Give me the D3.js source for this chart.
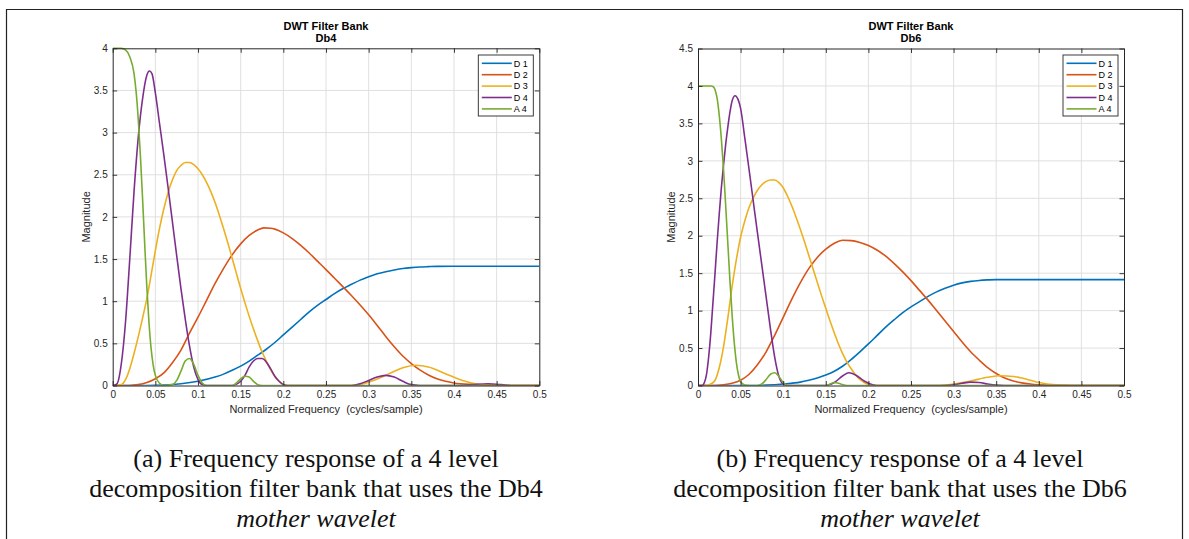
<!DOCTYPE html>
<html>
<head>
<meta charset="utf-8">
<script src="https://cdn.jsdelivr.net/npm/d3@7"></script>
<style>
  html, body { margin: 0; padding: 0; background: #fff; }
  svg { display: block; }
</style>
</head>
<body>
<svg id="fig" width="1189" height="539"></svg>
<script>
// ---- Shared axis ticks ----
const freqTicks = [0, 0.05, 0.1, 0.15, 0.2, 0.25, 0.3, 0.35, 0.4, 0.45, 0.5];
const magTicksDb4 = [0, 0.5, 1, 1.5, 2, 2.5, 3, 3.5, 4];
const magTicksDb6 = [0, 0.5, 1, 1.5, 2, 2.5, 3, 3.5, 4, 4.5];
const seriesNames = ["D 1", "D 2", "D 3", "D 4", "A 4"];
const seriesColors = ["#0072BD", "#D95319", "#EDB120", "#7E2F8E", "#77AC30"];

// ---- Db4 filter bank magnitude responses: [normalized frequency, magnitude] ----
const db4D1 = [[0,0],[0.04,0],[0.06,0.005],[0.08,0.02],[0.1,0.05],[0.12,0.1],[0.13,0.135],[0.14,0.18],[0.15,0.23],[0.16,0.29],[0.17,0.36],[0.18,0.43],[0.19,0.51],[0.2,0.6],[0.21,0.69],[0.22,0.78],[0.23,0.87],[0.24,0.95],[0.25,1.02],[0.26,1.09],[0.27,1.15],[0.28,1.2],[0.29,1.25],[0.3,1.29],[0.31,1.325],[0.32,1.35],[0.33,1.37],[0.34,1.387],[0.35,1.398],[0.36,1.406],[0.37,1.41],[0.38,1.413],[0.4,1.414],[0.5,1.414]];
const db4D2 = [[0,0],[0.02,0],[0.03,0.01],[0.04,0.035],[0.05,0.08],[0.06,0.15],[0.07,0.27],[0.08,0.42],[0.09,0.62],[0.1,0.81],[0.11,1.01],[0.12,1.21],[0.13,1.39],[0.14,1.55],[0.15,1.68],[0.16,1.78],[0.17,1.845],[0.177,1.87],[0.185,1.865],[0.19,1.855],[0.2,1.81],[0.21,1.745],[0.22,1.665],[0.23,1.575],[0.24,1.475],[0.25,1.375],[0.26,1.272],[0.27,1.17],[0.28,1.065],[0.29,0.955],[0.3,0.838],[0.31,0.712],[0.32,0.582],[0.33,0.46],[0.34,0.35],[0.35,0.26],[0.36,0.185],[0.37,0.125],[0.38,0.08],[0.39,0.05],[0.4,0.03],[0.42,0.012],[0.45,0.003],[0.47,0],[0.5,0]];
const db4D3 = [[0,0],[0.01,0.01],[0.015,0.07],[0.02,0.2],[0.025,0.38],[0.03,0.58],[0.035,0.8],[0.04,1.03],[0.045,1.31],[0.05,1.6],[0.055,1.87],[0.06,2.1],[0.065,2.29],[0.07,2.44],[0.075,2.55],[0.08,2.61],[0.085,2.645],[0.09,2.645],[0.095,2.62],[0.1,2.57],[0.105,2.5],[0.11,2.41],[0.115,2.3],[0.12,2.17],[0.125,2.02],[0.13,1.86],[0.135,1.69],[0.14,1.51],[0.145,1.33],[0.15,1.15],[0.155,0.98],[0.16,0.82],[0.165,0.67],[0.17,0.53],[0.175,0.4],[0.18,0.29],[0.185,0.19],[0.19,0.11],[0.195,0.05],[0.2,0.015],[0.205,0],[0.28,0],[0.3,0.04],[0.32,0.12],[0.34,0.21],[0.355,0.24],[0.37,0.22],[0.39,0.14],[0.41,0.06],[0.43,0.01],[0.44,0],[0.5,0]];
const db4D4 = [[0,0],[0.005,0.02],[0.01,0.25],[0.015,0.75],[0.02,1.5],[0.025,2.3],[0.03,2.95],[0.035,3.4],[0.04,3.68],[0.043,3.73],[0.046,3.7],[0.05,3.47],[0.055,3.1],[0.06,2.73],[0.065,2.34],[0.07,1.94],[0.075,1.54],[0.08,1.15],[0.085,0.79],[0.09,0.47],[0.095,0.22],[0.1,0.07],[0.105,0.01],[0.11,0],[0.14,0],[0.15,0.05],[0.155,0.12],[0.16,0.22],[0.165,0.29],[0.17,0.32],[0.175,0.32],[0.18,0.28],[0.185,0.2],[0.19,0.11],[0.195,0.05],[0.2,0.01],[0.205,0],[0.28,0],[0.29,0.02],[0.3,0.06],[0.31,0.1],[0.32,0.12],[0.33,0.1],[0.34,0.05],[0.35,0.01],[0.36,0],[0.4,0],[0.42,0.01],[0.44,0.02],[0.45,0.015],[0.46,0.005],[0.47,0],[0.5,0]];
const db4A4 = [[0,4],[0.01,4],[0.015,3.98],[0.02,3.9],[0.025,3.7],[0.0275,3.48],[0.03,3.15],[0.0325,2.72],[0.035,2.22],[0.0375,1.68],[0.04,1.17],[0.0425,0.75],[0.045,0.44],[0.0475,0.24],[0.05,0.12],[0.055,0.025],[0.06,0],[0.07,0.01],[0.075,0.06],[0.08,0.17],[0.085,0.29],[0.09,0.32],[0.095,0.25],[0.1,0.12],[0.105,0.03],[0.11,0],[0.14,0],[0.145,0.03],[0.15,0.08],[0.155,0.11],[0.16,0.1],[0.165,0.05],[0.17,0.01],[0.175,0],[0.5,0]];

// ---- Db6 filter bank magnitude responses ----
const db6D1 = [[0,0],[0.06,0],[0.08,0.005],[0.1,0.02],[0.12,0.045],[0.13,0.07],[0.14,0.1],[0.15,0.14],[0.16,0.19],[0.17,0.26],[0.18,0.35],[0.19,0.45],[0.2,0.555],[0.21,0.665],[0.22,0.775],[0.23,0.875],[0.24,0.97],[0.25,1.05],[0.26,1.12],[0.27,1.19],[0.28,1.25],[0.29,1.3],[0.3,1.34],[0.31,1.37],[0.32,1.39],[0.33,1.403],[0.34,1.41],[0.35,1.414],[0.5,1.414]];
const db6D2 = [[0,0],[0.02,0],[0.03,0.01],[0.04,0.03],[0.05,0.07],[0.06,0.15],[0.07,0.28],[0.08,0.45],[0.09,0.67],[0.1,0.91],[0.11,1.15],[0.12,1.37],[0.13,1.56],[0.14,1.71],[0.15,1.82],[0.16,1.9],[0.17,1.94],[0.18,1.935],[0.19,1.91],[0.2,1.87],[0.21,1.81],[0.22,1.73],[0.23,1.63],[0.24,1.52],[0.25,1.4],[0.26,1.27],[0.27,1.14],[0.28,1.0],[0.29,0.86],[0.3,0.72],[0.31,0.58],[0.32,0.45],[0.33,0.34],[0.34,0.24],[0.35,0.16],[0.36,0.1],[0.37,0.06],[0.38,0.035],[0.39,0.02],[0.4,0.01],[0.42,0],[0.5,0]];
const db6D3 = [[0,0],[0.01,0],[0.015,0.02],[0.02,0.07],[0.025,0.24],[0.03,0.52],[0.035,0.9],[0.04,1.32],[0.045,1.68],[0.05,1.98],[0.055,2.2],[0.06,2.38],[0.065,2.51],[0.07,2.61],[0.075,2.68],[0.08,2.725],[0.085,2.745],[0.09,2.745],[0.095,2.71],[0.1,2.64],[0.105,2.53],[0.11,2.4],[0.115,2.25],[0.12,2.09],[0.125,1.92],[0.13,1.74],[0.135,1.56],[0.14,1.38],[0.145,1.2],[0.15,1.03],[0.155,0.86],[0.16,0.7],[0.165,0.55],[0.17,0.42],[0.175,0.31],[0.18,0.22],[0.185,0.14],[0.19,0.08],[0.195,0.04],[0.2,0.015],[0.205,0],[0.28,0],[0.3,0.02],[0.32,0.06],[0.34,0.11],[0.355,0.13],[0.37,0.12],[0.38,0.1],[0.39,0.07],[0.4,0.04],[0.41,0.02],[0.43,0.005],[0.44,0],[0.5,0]];
const db6D4 = [[0,0],[0.005,0],[0.0075,0.04],[0.01,0.15],[0.0125,0.38],[0.015,0.7],[0.0175,1.1],[0.02,1.5],[0.0225,1.92],[0.025,2.3],[0.0275,2.65],[0.03,2.95],[0.0325,3.22],[0.035,3.45],[0.0375,3.65],[0.04,3.8],[0.0435,3.87],[0.047,3.82],[0.05,3.7],[0.055,3.3],[0.06,2.88],[0.065,2.45],[0.07,2.02],[0.075,1.6],[0.08,1.18],[0.085,0.76],[0.09,0.38],[0.095,0.12],[0.1,0.02],[0.105,0],[0.15,0],[0.16,0.04],[0.17,0.13],[0.177,0.17],[0.185,0.14],[0.195,0.06],[0.205,0.01],[0.21,0],[0.29,0],[0.3,0.01],[0.31,0.03],[0.32,0.045],[0.33,0.04],[0.34,0.02],[0.35,0.005],[0.36,0],[0.5,0]];
const db6A4 = [[0,4],[0.015,4],[0.018,3.99],[0.02,3.95],[0.0225,3.83],[0.025,3.6],[0.0275,3.28],[0.03,2.88],[0.0325,2.4],[0.035,1.9],[0.0375,1.4],[0.04,0.95],[0.0425,0.58],[0.045,0.31],[0.0475,0.14],[0.05,0.05],[0.055,0.005],[0.06,0],[0.07,0],[0.075,0.02],[0.08,0.08],[0.085,0.15],[0.09,0.17],[0.095,0.12],[0.1,0.04],[0.105,0],[0.15,0],[0.155,0.02],[0.16,0.04],[0.165,0.03],[0.17,0.01],[0.175,0],[0.5,0]];

const panels = [
  {
    subtitle: "Db4",
    left: 112.7, right: 539.3, top: 48.3, bottom: 385.5,
    yMax: 4, yTicks: magTicksDb4,
    series: [db4D1, db4D2, db4D3, db4D4, db4A4],
    captionX: 316,
    caption: ["(a) Frequency response of a 4 level",
              "decomposition filter bank that uses the Db4",
              "mother wavelet"]
  },
  {
    subtitle: "Db6",
    left: 698, right: 1124, top: 48.5, bottom: 385.5,
    yMax: 4.5, yTicks: magTicksDb6,
    series: [db6D1, db6D2, db6D3, db6D4, db6A4],
    captionX: 900,
    caption: ["(b) Frequency response of a 4 level",
              "decomposition filter bank that uses the Db6",
              "mother wavelet"]
  }
];

const svg = d3.select("#fig");
const sans = "'Liberation Sans', Arial, Helvetica, sans-serif";
const serif = "'Liberation Serif', 'Times New Roman', serif";
const ink = "#262626";
const tickLen = 4.5;

// outer frame around the figure block
svg.append("path")
  .attr("d", "M6.5,539 V9.5 H1182.5 V539")
  .attr("fill", "none").attr("stroke", "#222").attr("stroke-width", 1.2);

panels.forEach(p => {
  const x = d3.scaleLinear().domain([0, 0.5]).range([p.left, p.right]);
  const y = d3.scaleLinear().domain([0, p.yMax]).range([p.bottom, p.top]);
  const g = svg.append("g");
  const w = p.right - p.left, h = p.bottom - p.top;

  // grid
  const grid = g.append("g").attr("stroke", "#dcdcdc").attr("stroke-width", 0.9);
  grid.selectAll("line.vx").data(freqTicks.slice(1, -1)).join("line")
    .attr("x1", d => x(d)).attr("x2", d => x(d))
    .attr("y1", p.top).attr("y2", p.bottom);
  grid.selectAll("line.hy").data(p.yTicks.filter(v => v > 0 && v < p.yMax)).join("line")
    .attr("x1", p.left).attr("x2", p.right)
    .attr("y1", d => y(d)).attr("y2", d => y(d));

  // curves
  const line = d3.line()
    .x(d => x(d[0])).y(d => y(d[1]))
    .curve(d3.curveMonotoneX);
  const clipId = "clip-" + p.subtitle;
  g.append("clipPath").attr("id", clipId).append("rect")
    .attr("x", p.left).attr("y", p.top - 2).attr("width", w).attr("height", h + 2);
  const curves = g.append("g").attr("clip-path", `url(#${clipId})`);
  p.series.forEach((s, i) => {
    curves.append("path")
      .attr("d", line(s))
      .attr("fill", "none")
      .attr("stroke", seriesColors[i])
      .attr("stroke-width", 1.6)
      .attr("stroke-linejoin", "round");
  });

  // axes (ticks pointing inward on all four sides)
  const styleAxis = sel => {
    sel.selectAll("path.domain").attr("stroke", ink).attr("stroke-width", 1);
    sel.selectAll(".tick line").attr("stroke", ink).attr("stroke-width", 0.9);
    sel.selectAll(".tick text").attr("fill", ink)
      .style("font-family", sans).style("font-size", "10px");
  };
  g.append("g").attr("transform", `translate(0,${p.bottom})`)
    .call(d3.axisBottom(x).tickValues(freqTicks).tickFormat(d3.format("")).tickSizeInner(-tickLen).tickSizeOuter(0).tickPadding(5.5))
    .call(styleAxis);
  g.append("g").attr("transform", `translate(0,${p.top})`)
    .call(d3.axisTop(x).tickValues(freqTicks).tickFormat("").tickSizeInner(-tickLen).tickSizeOuter(0))
    .call(styleAxis);
  g.append("g").attr("transform", `translate(${p.left},0)`)
    .call(d3.axisLeft(y).tickValues(p.yTicks).tickFormat(d3.format("")).tickSizeInner(-tickLen).tickSizeOuter(0).tickPadding(5))
    .call(styleAxis);
  g.append("g").attr("transform", `translate(${p.right},0)`)
    .call(d3.axisRight(y).tickValues(p.yTicks).tickFormat("").tickSizeInner(-tickLen).tickSizeOuter(0))
    .call(styleAxis);

  // titles
  const cx = (p.left + p.right) / 2;
  g.append("text").attr("x", cx).attr("y", 30).attr("text-anchor", "middle")
    .style("font-family", sans).style("font-size", "11px").style("font-weight", "bold")
    .attr("fill", "#000").text("DWT Filter Bank");
  g.append("text").attr("x", cx).attr("y", 42).attr("text-anchor", "middle")
    .style("font-family", sans).style("font-size", "11px").style("font-weight", "bold")
    .attr("fill", "#000").text(p.subtitle);

  // axis labels
  g.append("text").attr("x", cx).attr("y", 413).attr("text-anchor", "middle")
    .style("font-family", sans).style("font-size", "11px").style("white-space", "pre")
    .attr("fill", ink)
    .text("Normalized Frequency  (cycles/sample)");
  g.append("text")
    .attr("transform", `translate(${p.left - 23},${(p.top + p.bottom) / 2}) rotate(-90)`)
    .attr("text-anchor", "middle")
    .style("font-family", sans).style("font-size", "11px").attr("fill", ink)
    .text("Magnitude");

  // legend
  const lgW = 55, lgH = 61;
  const lgX = p.right - 6 - lgW, lgY = 55;
  const lg = g.append("g").attr("transform", `translate(${lgX},${lgY})`);
  lg.append("rect").attr("width", lgW).attr("height", lgH)
    .attr("fill", "#fff").attr("stroke", ink).attr("stroke-width", 0.9);
  seriesNames.forEach((name, i) => {
    const yy = 8.3 + i * 11.4;
    lg.append("line").attr("x1", 3.5).attr("x2", 33.5).attr("y1", yy).attr("y2", yy)
      .attr("stroke", seriesColors[i]).attr("stroke-width", 1.6);
    lg.append("text").attr("x", 35.5).attr("y", yy + 3.2)
      .style("font-family", sans).style("font-size", "9px").attr("fill", "#000")
      .text(name);
  });

  // caption
  p.caption.forEach((t, i) => {
    g.append("text").attr("x", p.captionX).attr("y", 467 + i * 30)
      .attr("text-anchor", "middle")
      .style("font-family", serif).style("font-size", "26px")
      .style("font-style", i === 2 ? "italic" : "normal")
      .attr("fill", "#111").text(t);
  });
});
</script>
</body>
</html>
